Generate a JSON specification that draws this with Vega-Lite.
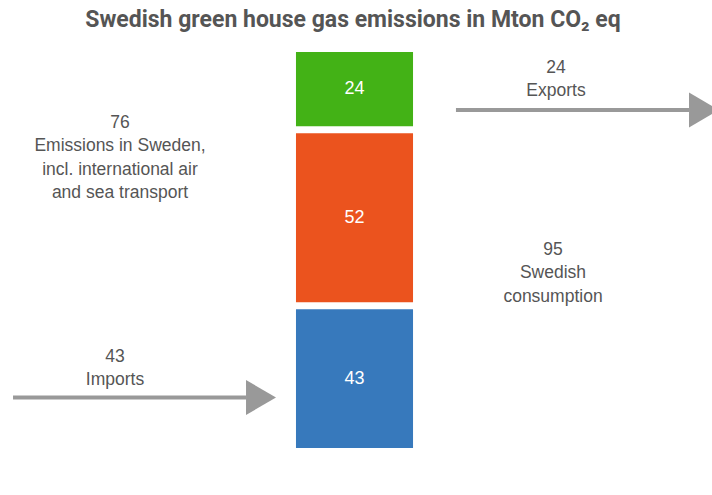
{
  "$schema": "https://vega.github.io/schema/vega-lite/v6.json",
  "width": 712,
  "height": 455,
  "autosize": "none",
  "padding": {"left": 0, "right": 0, "top": 40, "bottom": 0},
  "background": "white",
  "title": {
    "text": "Swedish green house gas emissions in Mton CO₂ eq",
    "font": "Roboto",
    "fontSize": 23,
    "fontWeight": "bold",
    "color": "#555555",
    "anchor": "middle",
    "frame": "group",
    "offset": 8,
    "dx": -3
  },
  "config": {"view": {"stroke": null}},
  "datasets": {
    "emissions": [
      {"part": "Imports", "value": 43, "order": 1},
      {"part": "Domestic", "value": 52, "order": 2},
      {"part": "Exports", "value": 24, "order": 3}
    ],
    "notes": [
      {"name": "Imports", "value": 43, "label": "43\nImports"},
      {"name": "Exports", "value": 24, "label": "24\nExports"},
      {"name": "Emissions", "value": 76, "label": "76\nEmissions in Sweden,\nincl. international air\nand sea transport"},
      {"name": "Consumption", "value": 95, "label": "95\nSwedish\nconsumption"}
    ]
  },
  "layer": [
    {
      "data": {"name": "emissions"},
      "transform": [
        {"stack": "value", "groupby": [], "sort": [{"field": "order", "order": "ascending"}], "as": ["v0", "v1"]}
      ],
      "mark": {"type": "bar", "yOffset": 3.5, "y2Offset": -3.5},
      "encoding": {
        "x": {"datum": 41.57, "type": "quantitative", "scale": {"domain": [0, 100], "nice": false, "zero": false}, "axis": null},
        "x2": {"datum": 58.01},
        "y": {"field": "v1", "type": "quantitative", "scale": {"domain": [-12.84, 121.5], "nice": false, "zero": false}, "axis": null},
        "y2": {"field": "v0"},
        "color": {"field": "part", "type": "nominal", "scale": {"domain": ["Imports", "Domestic", "Exports"], "range": ["#3779BC", "#EB531E", "#43B216"]}, "legend": null}
      }
    },
    {
      "data": {"name": "emissions"},
      "transform": [
        {"stack": "value", "groupby": [], "sort": [{"field": "order", "order": "ascending"}], "as": ["v0", "v1"]},
        {"fold": ["v0", "v1"], "as": ["edge", "pos"]},
        {"aggregate": [{"op": "mean", "field": "pos", "as": "mid"}], "groupby": ["part", "value"]}
      ],
      "mark": {"type": "text", "color": "white", "font": "Liberation Sans", "fontSize": 18, "baseline": "middle", "align": "center"},
      "encoding": {
        "x": {"datum": 49.79, "type": "quantitative", "scale": {"domain": [0, 100], "nice": false, "zero": false}, "axis": null},
        "y": {"field": "mid", "type": "quantitative", "scale": {"domain": [-12.84, 121.5], "nice": false, "zero": false}, "axis": null},
        "text": {"field": "value", "type": "quantitative"}
      }
    },
    {
      "data": {"name": "notes"},
      "transform": [{"filter": "datum.name === 'Imports'"}],
      "mark": {"type": "rule", "color": "#999999", "strokeWidth": 4},
      "encoding": {
        "x": {"datum": 1.83, "type": "quantitative", "scale": {"domain": [0, 100], "nice": false, "zero": false}, "axis": null},
        "x2": {"datum": 34.55},
        "y": {"datum": 15.94, "type": "quantitative", "scale": {"domain": [-12.84, 121.5], "nice": false, "zero": false}, "axis": null}
      }
    },
    {
      "data": {"name": "notes"},
      "transform": [{"filter": "datum.name === 'Imports'"}],
      "mark": {"type": "point", "shape": "M-0.857,-1L0.857,0L-0.857,1Z", "filled": true, "size": 1225, "color": "#999999", "opacity": 1, "strokeWidth": 0},
      "encoding": {
        "x": {"datum": 36.66, "type": "quantitative", "scale": {"domain": [0, 100], "nice": false, "zero": false}, "axis": null},
        "y": {"datum": 15.94, "type": "quantitative", "scale": {"domain": [-12.84, 121.5], "nice": false, "zero": false}, "axis": null}
      }
    },
    {
      "data": {"name": "notes"},
      "transform": [{"filter": "datum.name === 'Exports'"}],
      "mark": {"type": "rule", "color": "#999999", "strokeWidth": 4},
      "encoding": {
        "x": {"datum": 64.04, "type": "quantitative", "scale": {"domain": [0, 100], "nice": false, "zero": false}, "axis": null},
        "x2": {"datum": 96.77},
        "y": {"datum": 100.83, "type": "quantitative", "scale": {"domain": [-12.84, 121.5], "nice": false, "zero": false}, "axis": null}
      }
    },
    {
      "data": {"name": "notes"},
      "transform": [{"filter": "datum.name === 'Exports'"}],
      "mark": {"type": "point", "shape": "M-0.857,-1L0.857,0L-0.857,1Z", "filled": true, "size": 1225, "color": "#999999", "opacity": 1, "strokeWidth": 0},
      "encoding": {
        "x": {"datum": 98.88, "type": "quantitative", "scale": {"domain": [0, 100], "nice": false, "zero": false}, "axis": null},
        "y": {"datum": 100.83, "type": "quantitative", "scale": {"domain": [-12.84, 121.5], "nice": false, "zero": false}, "axis": null}
      }
    },
    {
      "data": {"name": "notes"},
      "transform": [{"filter": "datum.name === 'Imports'"}],
      "mark": {"type": "text", "color": "#555555", "font": "Liberation Sans", "fontSize": 17.5, "lineHeight": 23, "lineBreak": "\n", "baseline": "middle", "align": "center"},
      "encoding": {
        "x": {"datum": 16.15, "type": "quantitative", "scale": {"domain": [0, 100], "nice": false, "zero": false}, "axis": null},
        "y": {"datum": 27.9, "type": "quantitative", "scale": {"domain": [-12.84, 121.5], "nice": false, "zero": false}, "axis": null},
        "text": {"field": "label", "type": "nominal"}
      }
    },
    {
      "data": {"name": "notes"},
      "transform": [{"filter": "datum.name === 'Exports'"}],
      "mark": {"type": "text", "color": "#555555", "font": "Liberation Sans", "fontSize": 17.5, "lineHeight": 23, "lineBreak": "\n", "baseline": "middle", "align": "center"},
      "encoding": {
        "x": {"datum": 78.09, "type": "quantitative", "scale": {"domain": [0, 100], "nice": false, "zero": false}, "axis": null},
        "y": {"datum": 113.2, "type": "quantitative", "scale": {"domain": [-12.84, 121.5], "nice": false, "zero": false}, "axis": null},
        "text": {"field": "label", "type": "nominal"}
      }
    },
    {
      "data": {"name": "notes"},
      "transform": [{"filter": "datum.name === 'Emissions'"}],
      "mark": {"type": "text", "color": "#555555", "font": "Liberation Sans", "fontSize": 17.5, "lineHeight": 23.5, "lineBreak": "\n", "baseline": "middle", "align": "center"},
      "encoding": {
        "x": {"datum": 16.85, "type": "quantitative", "scale": {"domain": [0, 100], "nice": false, "zero": false}, "axis": null},
        "y": {"datum": 97.0, "type": "quantitative", "scale": {"domain": [-12.84, 121.5], "nice": false, "zero": false}, "axis": null},
        "text": {"field": "label", "type": "nominal"}
      }
    },
    {
      "data": {"name": "notes"},
      "transform": [{"filter": "datum.name === 'Consumption'"}],
      "mark": {"type": "text", "color": "#555555", "font": "Liberation Sans", "fontSize": 17.5, "lineHeight": 23.5, "lineBreak": "\n", "baseline": "middle", "align": "center"},
      "encoding": {
        "x": {"datum": 77.67, "type": "quantitative", "scale": {"domain": [0, 100], "nice": false, "zero": false}, "axis": null},
        "y": {"datum": 59.5, "type": "quantitative", "scale": {"domain": [-12.84, 121.5], "nice": false, "zero": false}, "axis": null},
        "text": {"field": "label", "type": "nominal"}
      }
    }
  ]
}
